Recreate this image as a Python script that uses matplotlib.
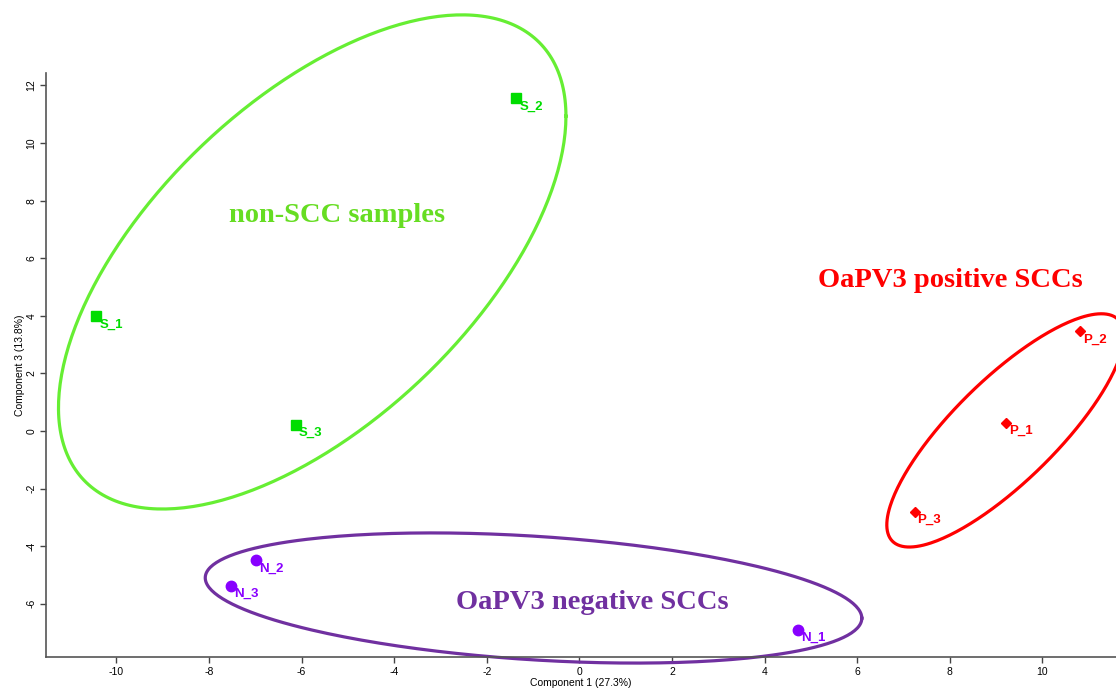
import numpy as np
import matplotlib
matplotlib.use('Agg')
from matplotlib import pyplot as plt

# Sample scores (Component 1, Component 3)
s_names = ['S_1', 'S_2', 'S_3']
s_x = [-10.43, -1.36, -6.13]
s_y = [3.99, 11.56, 0.21]

n_names = ['N_1', 'N_2', 'N_3']
n_x = [4.73, -6.98, -7.52]
n_y = [-6.91, -4.48, -5.38]

p_names = ['P_1', 'P_2', 'P_3']
p_x = [9.22, 10.82, 7.24]
p_y = [0.28, 3.47, -2.81]

# Group ellipses: centre x, centre y, half width, half height, correlation
green_ell = [-5.77, 5.87, 5.48, 8.58, 0.59]
purple_ell = [-0.99, -5.80, 7.09, 2.26, -0.31]
red_ell = [9.20, 0.02, 2.56, 4.05, 0.81]

x_ticks = list(range(-10, 11, 2))
y_ticks = list(range(-6, 13, 2))


def ellipse(ax, e, color):
    cx, cy, sx, sy, rho = e
    t = np.linspace(0, 2 * np.pi, 300)
    x = cx + sx * np.cos(t)
    y = cy + sy * (rho * np.cos(t) + np.sqrt(1 - rho ** 2) * np.sin(t))
    ax.plot(x, y, color=color, lw=2.3, clip_on=False, zorder=2)


def points(ax, xs, ys, names, marker, ms, color):
    ax.plot(xs, ys, ls='none', marker=marker, ms=ms, color=color, zorder=3)
    for x, y, n in zip(xs, ys, names):
        ax.annotate(n, (x, y), xytext=(2, -6), textcoords='offset points',
                    ha='left', va='center', fontsize=9.5, fontweight='bold',
                    color=color, family='Liberation Sans', zorder=4)


fig = plt.figure(figsize=(11.16, 6.89), dpi=100)
ax = fig.add_axes([0.0412, 0.0464, 0.9588, 0.8476])

ellipse(ax, green_ell, '#66ee33')
ellipse(ax, purple_ell, '#7030a0')
ellipse(ax, red_ell, '#ff0000')

points(ax, s_x, s_y, s_names, 's', 7.5, '#00dd00')
points(ax, n_x, n_y, n_names, 'o', 7.5, '#8800ff')
points(ax, p_x, p_y, p_names, 'D', 5.5, '#ff0000')

big = dict(fontsize=20.5, fontweight='bold', family='Liberation Serif',
           ha='center', va='center')
ax.text(-5.24, 7.5, 'non-SCC samples', color='#66dd22', **big)
ax.text(8.02, 5.21, 'OaPV3 positive SCCs', color='#ff0000', **big)
ax.text(0.27, -5.95, 'OaPV3 negative SCCs', color='#7030a0', **big)

ax.set_xlim(-11.52, 11.59)
ax.set_ylim(-7.85, 12.43)
ax.set_xticks(x_ticks)
ax.set_yticks(y_ticks)
ax.set_xticklabels([str(v) for v in x_ticks], fontsize=7.5, family='Liberation Sans')
ax.set_yticklabels([str(v) for v in y_ticks], fontsize=7.5, family='Liberation Sans',
                   rotation=90, va='center')
ax.tick_params(direction='out', length=4, width=1, color='#444444', pad=3)
for s in ['top', 'right']:
    ax.spines[s].set_visible(False)
for s in ['left', 'bottom']:
    ax.spines[s].set_color('#555555')
    ax.spines[s].set_linewidth(1.2)

ax.set_xlabel('Component 1 (27.3%)', fontsize=7.5, family='Liberation Sans', labelpad=1)
ax.set_ylabel('Component 3 (13.8%)', fontsize=7.5, family='Liberation Sans', labelpad=1)

fig.savefig('out.png', dpi=100)
